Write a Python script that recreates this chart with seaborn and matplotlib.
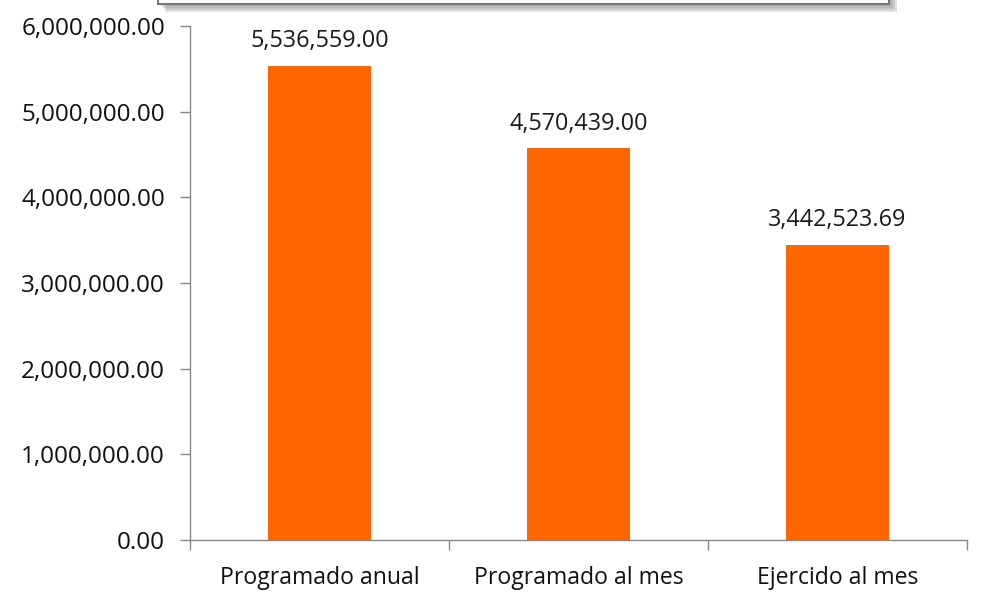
import matplotlib
matplotlib.use("Agg")
import matplotlib.pyplot as plt
import matplotlib.patches as mpatches
import matplotlib.ticker as mticker
import seaborn as sns
import pandas as pd

categories = ["Programado anual", "Programado al mes", "Ejercido al mes"]
values = [5536559.00, 4570439.00, 3442523.69]
value_labels = ["5,536,559.00", "4,570,439.00", "3,442,523.69"]
y_ticks = [0, 1000000, 2000000, 3000000, 4000000, 5000000, 6000000]

sns.set_theme(style="white")
plt.rcParams['font.family'] = ['Open Sans', 'DejaVu Sans']

df = pd.DataFrame({"cat": categories, "val": values})

fig = plt.figure(figsize=(9.87, 5.92), dpi=100)
ax = fig.add_axes([190/987, 1 - 540/592, (967-190)/987, (540-26)/592])

sns.barplot(data=df, x="cat", y="val", color="#FF6600", saturation=1,
            width=0.4, ax=ax, edgecolor="none")

ax.set_xlim(-0.5, 2.5)
ax.set_ylim(0, 6000000)
ax.set_yticks(y_ticks)
ax.yaxis.set_major_formatter(mticker.FuncFormatter(lambda v, p: f"{v:,.2f}"))
ax.set_xlabel("")
ax.set_ylabel("")

for i, (v, lab) in enumerate(zip(values, value_labels)):
    ax.text(i, v + 220000, lab, ha="center", va="baseline", fontsize=16.8, color="#1a1a1a")

for s in ["top", "right"]:
    ax.spines[s].set_visible(False)
for s in ["left", "bottom"]:
    ax.spines[s].set_color("#888888")
    ax.spines[s].set_linewidth(1.0)

ax.tick_params(axis="y", which="major", left=True, length=7, width=1, color="#888888",
               labelsize=17.5, labelcolor="#111111", pad=11)
ax.tick_params(axis="x", which="major", bottom=False, labelsize=16.6, labelcolor="#111111", pad=13)
ax.set_xticks([-0.5, 0.5, 1.5, 2.5], minor=True)
ax.tick_params(axis="x", which="minor", bottom=True, length=7, width=1, color="#888888")

# partially visible box at top (shadow + border)
for k, a in enumerate([0.06, 0.08, 0.10, 0.12]):
    fig.patches.append(mpatches.Rectangle(((160 + 2*k)/987, 1 - (6 + 2*k)/592), (731)/987, 30/592,
                                          transform=fig.transFigure, facecolor="#000000",
                                          alpha=a, edgecolor="none", zorder=1))
fig.patches.append(mpatches.Rectangle((158/987, 1 - 4/592), 731/987, 30/592,
                                      transform=fig.transFigure, facecolor="white",
                                      edgecolor="#777777", linewidth=1.5, zorder=2))

fig.savefig("out.png", dpi=100)
